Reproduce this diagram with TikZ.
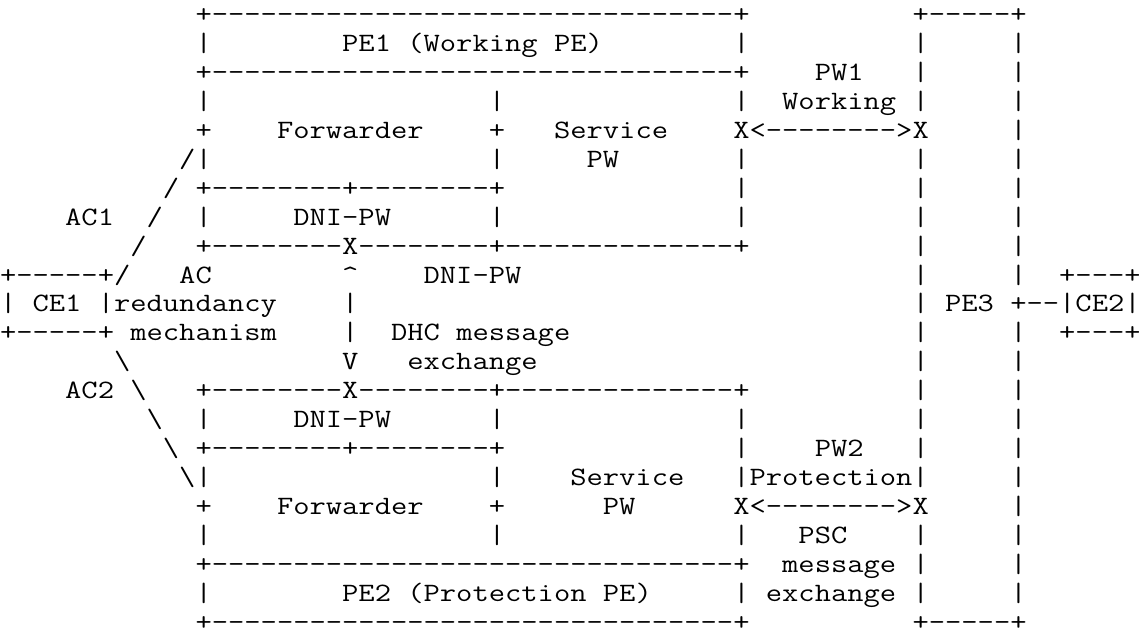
\documentclass[tikz,border=0pt]{standalone}
\usepackage{fontspec}
\tikzset{asciirow/.style={anchor=base west,inner sep=0pt,outer sep=0pt,xscale=1.194,transform shape,font=\fontsize{26.5pt}{28pt}\selectfont\ttfamily}}
\begin{document}
\begin{tikzpicture}[x=1pt,y=-1pt]
\useasboundingbox[fill=white] (0,0) rectangle (1139,637);
  \node [asciirow] (row1) at (0,22.4) {\verb!            +--------------------------------+          +-----+!};
  \node [asciirow] (row2) at (0,51.3) {\verb!            |        PE1 (Working PE)        |          |     |!};
  \node [asciirow] (row3) at (0,80.3) {\verb!            +--------------------------------+    PW1   |     |!};
  \node [asciirow] (row4) at (0,109.2) {\verb!            |                 |              |  Working |     |!};
  \node [asciirow] (row5) at (0,138.2) {\verb!            +    Forwarder    +   Service    X<-------->X     |!};
  \node [asciirow] (row6) at (0,167.2) {\verb!           /|                 |     PW       |          |     |!};
  \node [asciirow] (row7) at (0,196.1) {\verb!          / +--------+--------+              |          |     |!};
  \node [asciirow] (row8) at (0,225.1) {\verb!    AC1  /  |     DNI-PW      |              |          |     |!};
  \node [asciirow] (row9) at (0,254.0) {\verb!        /   +--------X--------+--------------+          |     |!};
  \node [asciirow] (row10) at (0,283.0) {\verb!+-----+/   AC        ^    DNI-PW                        |     |  +---+!};
  \node [asciirow] (row11) at (0,311.9) {\verb!| CE1 |redundancy    |                                  | PE3 +--|CE2|!};
  \node [asciirow] (row12) at (0,340.9) {\verb!+-----+ mechanism    |  DHC message                     |     |  +---+!};
  \node [asciirow] (row13) at (0,369.8) {\verb!       \             V   exchange                       |     |!};
  \node [asciirow] (row14) at (0,398.8) {\verb!    AC2 \   +--------X--------+--------------+          |     |!};
  \node [asciirow] (row15) at (0,427.8) {\verb!         \  |     DNI-PW      |              |          |     |!};
  \node [asciirow] (row16) at (0,456.7) {\verb!          \ +--------+--------+              |    PW2   |     |!};
  \node [asciirow] (row17) at (0,485.7) {\verb!           \|                 |    Service   |Protection|     |!};
  \node [asciirow] (row18) at (0,514.6) {\verb!            +    Forwarder    +      PW      X<-------->X     |!};
  \node [asciirow] (row19) at (0,543.6) {\verb!            |                 |              |   PSC    |     |!};
  \node [asciirow] (row20) at (0,572.5) {\verb!            +--------------------------------+  message |     |!};
  \node [asciirow] (row21) at (0,601.5) {\verb!            |        PE2 (Protection PE)     | exchange |     |!};
  \node [asciirow] (row22) at (0,630.4) {\verb!            +--------------------------------+          +-----+!};
\end{tikzpicture}
\end{document}
